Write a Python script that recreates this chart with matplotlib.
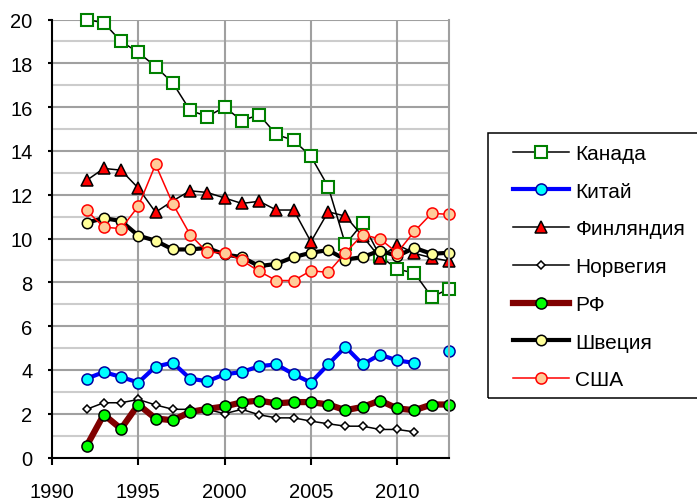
import numpy as np
import matplotlib
matplotlib.use("Agg")
import matplotlib.pyplot as plt
from matplotlib.patches import Rectangle

plt.rcParams['font.family'] = ['Liberation Sans', 'DejaVu Sans']

years = list(range(1992, 2014))
nan = np.nan

canada = [20.0, 19.85, 19.0, 18.5, 17.85, 17.1, 15.85, 15.57, 16.0, 15.38, 15.65,
          14.75, 14.48, 13.75, 12.37, 9.73, 10.7, 9.2, 8.6, 8.42, 7.33, 7.7]
china = [3.6, 3.9, 3.68, 3.42, 4.15, 4.33, 3.6, 3.48, 3.8, 3.9, 4.17,
         4.25, 3.8, 3.42, 4.25, 5.05, 4.25, 4.7, 4.43, 4.32, nan, 4.88]
finland = [12.65, 13.2, 13.12, 12.3, 11.2, 11.72, 12.18, 12.1, 11.85, 11.6, 11.7,
           11.3, 11.3, 9.85, 11.22, 11.02, 10.1, 9.12, 9.72, 9.32, 9.12, 8.97]
norway = [2.2, 2.5, 2.5, 2.65, 2.4, 2.2, 2.2, 2.2, 2.0, 2.2, 1.95,
          1.81, 1.81, 1.66, 1.54, 1.43, 1.43, 1.28, 1.28, 1.17, nan, nan]
rf = [0.52, 1.96, 1.31, 2.42, 1.78, 1.7, 2.08, 2.22, 2.33, 2.52, 2.6,
      2.47, 2.53, 2.53, 2.42, 2.16, 2.31, 2.6, 2.24, 2.16, 2.42, 2.42]
sweden = [10.72, 10.93, 10.8, 10.13, 9.9, 9.5, 9.5, 9.57, 9.27, 9.15, 8.74,
          8.84, 9.15, 9.35, 9.47, 9.04, 9.15, 9.45, 9.2, 9.57, 9.3, 9.35]
usa = [11.28, 10.52, 10.45, 11.47, 13.38, 11.58, 10.18, 9.37, 9.35, 9.0, 8.5,
       8.08, 8.08, 8.53, 8.45, 9.35, 10.18, 9.98, 9.35, 10.33, 11.15, 11.1]

labels = ['Канада', 'Китай', 'Финляндия', 'Норвегия', 'РФ', 'Швеция', 'США']

fig = plt.figure(figsize=(6.97, 5.02), dpi=100)
ax = fig.add_axes([52 / 697, 1 - 458.5 / 502, 397 / 697, 438 / 502])

# series drawn in legend order so later ones sit on top
ax.plot(years, canada, color='black', lw=1.1, marker='s', ms=8,
        mfc='white', mec='#008000', mew=1.5, label=labels[0], clip_on=False)
ax.plot(years, china, color='#0000ff', lw=3, marker='o', ms=8,
        mfc='#00ffff', mec='#0000a0', mew=1.1, label=labels[1], clip_on=False)
ax.plot(years, finland, color='black', lw=1.1, marker='^', ms=9,
        mfc='#ff0000', mec='black', mew=1.1, label=labels[2], clip_on=False)
ax.plot(years, norway, color='black', lw=1.1, marker='D', ms=4.5,
        mfc='white', mec='black', mew=1.1, label=labels[3], clip_on=False)
ax.plot(years, rf, color='#800000', lw=4.5, marker='o', ms=8,
        mfc='#00ff00', mec='black', mew=1.1, label=labels[4], clip_on=False)
ax.plot(years, sweden, color='black', lw=3, marker='o', ms=7.5,
        mfc='#ffff99', mec='black', mew=1.1, label=labels[5], clip_on=False)
ax.plot(years, usa, color='#ff0000', lw=1.1, marker='o', ms=8,
        mfc='#ffcc99', mec='#ff0000', mew=1.1, label=labels[6], clip_on=False)

ax.set_xlim(1990, 2013)
ax.set_ylim(0, 20)
ax.set_xticks([1990, 1995, 2000, 2005, 2010])
ax.set_yticks(range(0, 21, 2))
ax.set_yticks(range(1, 20, 2), minor=True)

# excel style grid
for v in range(1, 20, 2):
    ax.axhline(v, color='#cccccc', lw=1.5, zorder=0)
for v in range(2, 21, 2):
    ax.axhline(v, color='#a0a0a0', lw=1.5, zorder=0)
for v in [1995, 2000, 2005, 2010]:
    ax.axvline(v, color='#a0a0a0', lw=1.5, zorder=0)

ax.spines['top'].set_visible(False)
ax.spines['right'].set_color('#a0a0a0')
ax.spines['right'].set_linewidth(1.5)
ax.spines['left'].set_linewidth(1.5)
ax.spines['bottom'].set_linewidth(1.5)
ax.tick_params(axis='y', which='major', length=3, width=1.5, pad=11, labelsize=14.5)
ax.tick_params(axis='y', which='minor', length=0)
ax.tick_params(axis='x', length=5, width=1.5, pad=13, labelsize=14.5)

# legend box runs off the right edge of the figure
fig.patches.append(Rectangle((488 / 697, 1 - 399 / 502), 0.4, 265 / 502,
                             transform=fig.transFigure, fill=False,
                             edgecolor='black', lw=1.1))
fig.legend(loc='upper left', bbox_to_anchor=(513 / 697, 1 - 145 / 502),
           bbox_transform=fig.transFigure, frameon=False, fontsize=15,
           borderpad=0, borderaxespad=0, handlelength=2.7,
           handletextpad=0.3, labelspacing=0.9)

fig.savefig('out.png', dpi=100)
